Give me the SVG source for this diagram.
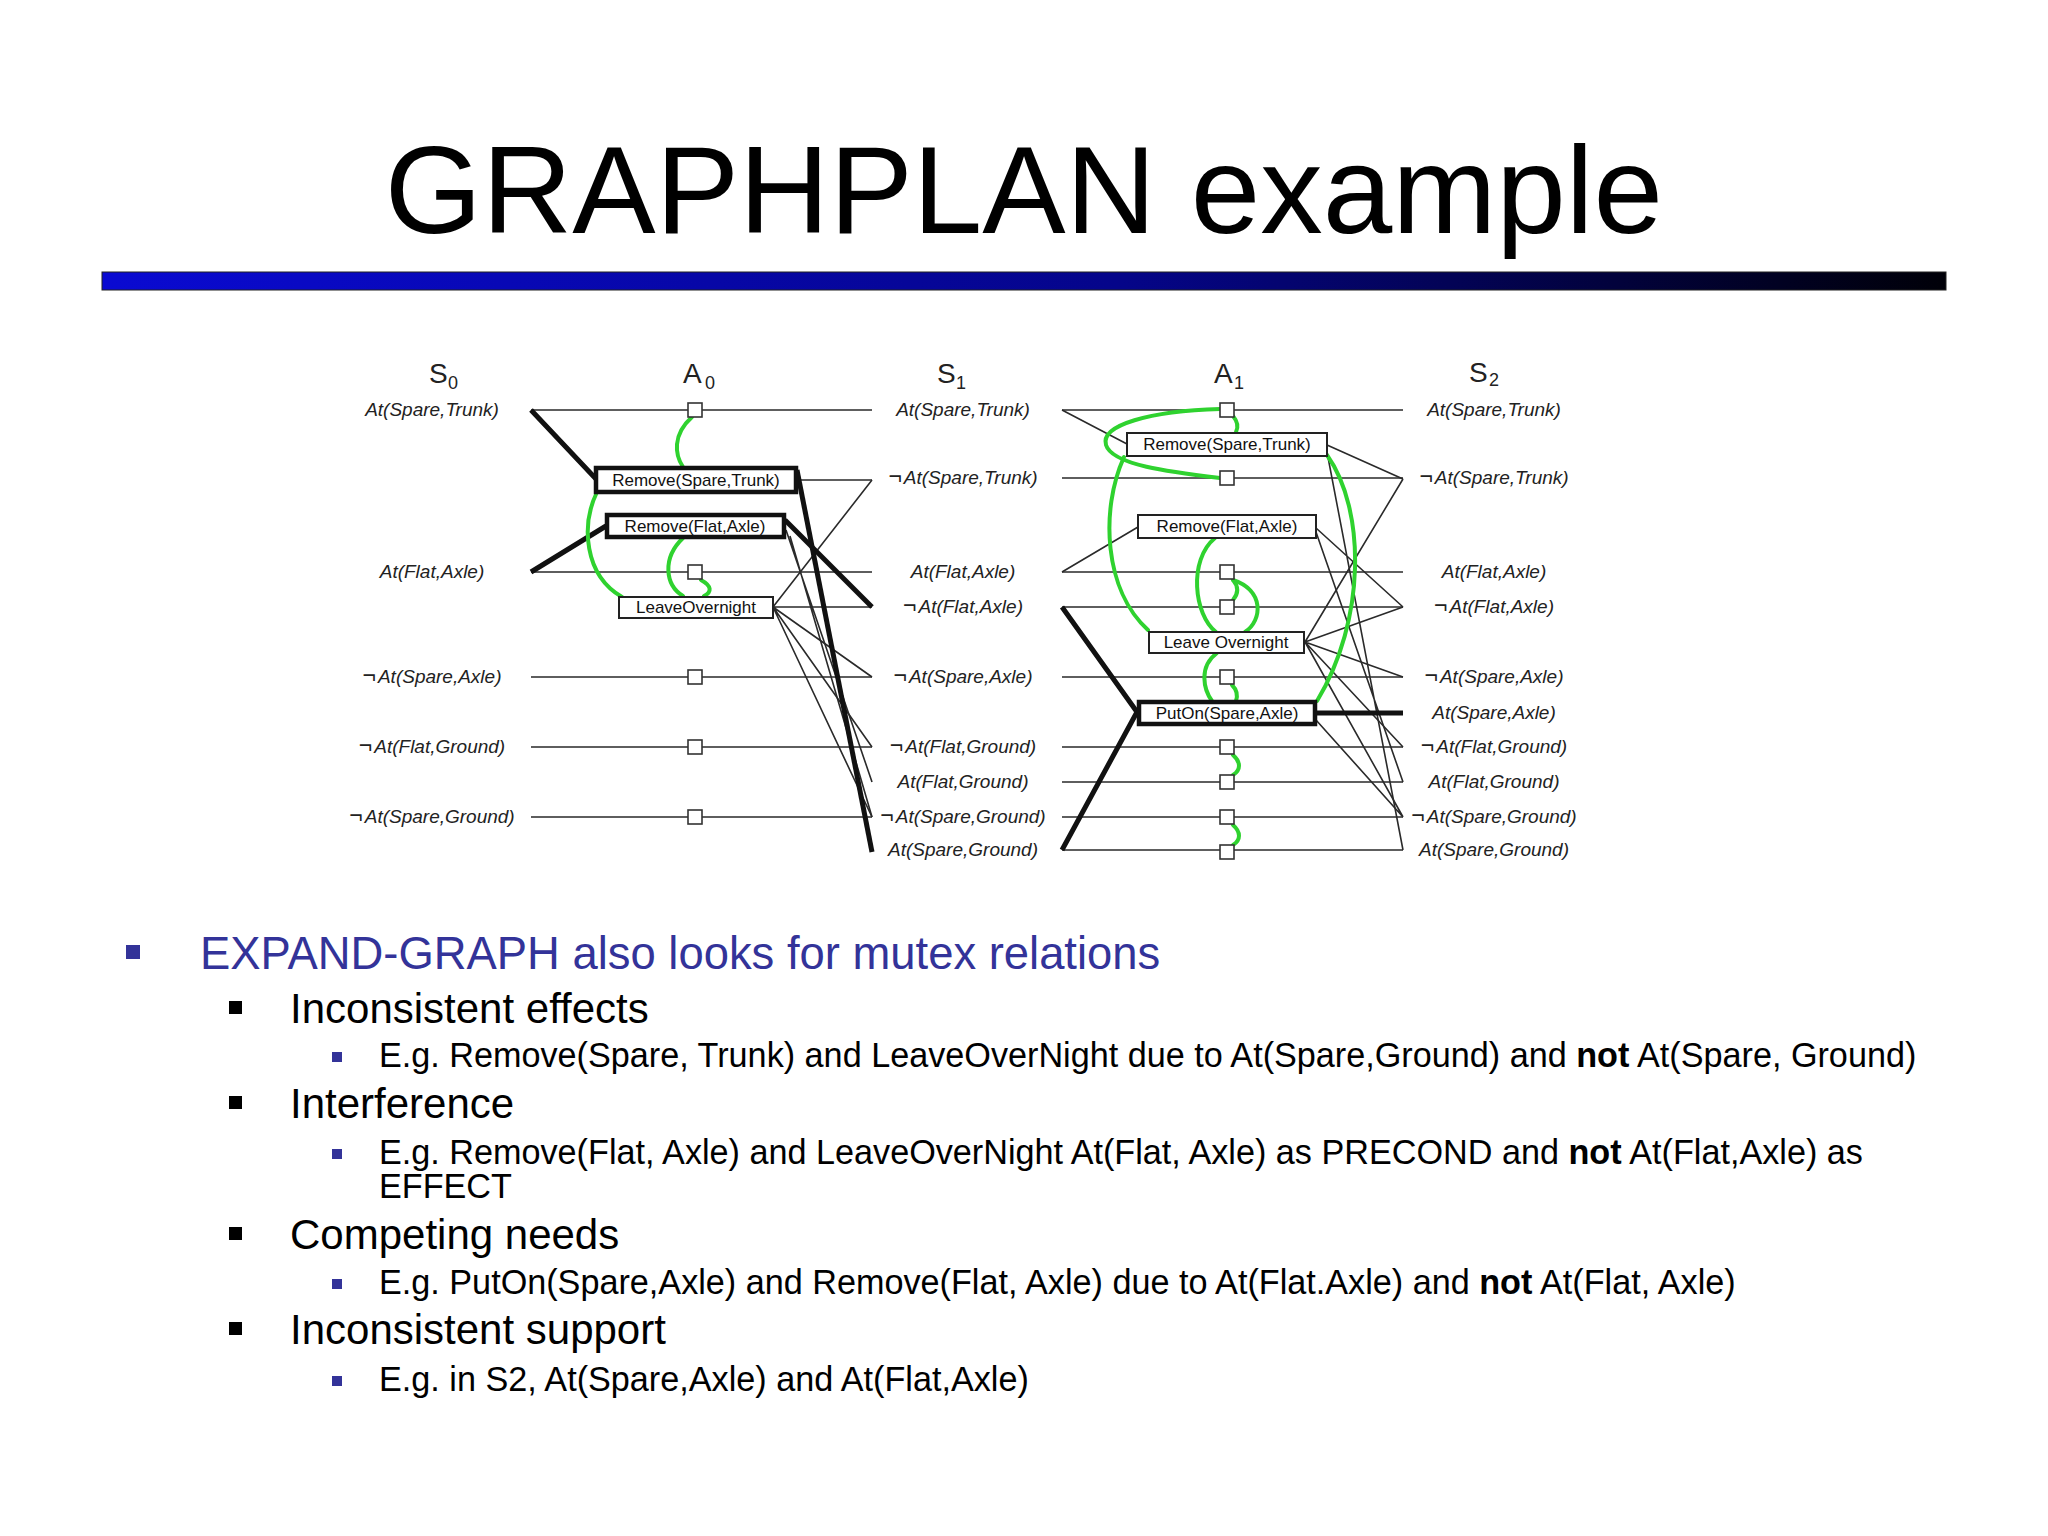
<svg xmlns="http://www.w3.org/2000/svg" width="2048" height="1536" viewBox="0 0 2048 1536">
<defs>
<linearGradient id="bar" x1="0" y1="0" x2="1" y2="0">
<stop offset="0" stop-color="#0a0ad2"/>
<stop offset="0.55" stop-color="#05058a"/>
<stop offset="1" stop-color="#000008"/>
</linearGradient>
<style>
.title{font-family:"Liberation Sans",Arial,sans-serif;font-size:125px;fill:#000;text-anchor:middle}
.hdr{font-family:"Liberation Sans",Arial,sans-serif;font-size:28px;fill:#222}
.sub{font-family:"Liberation Sans",Arial,sans-serif;font-size:18px;fill:#222}
.lbl{font-family:"Liberation Sans",Arial,sans-serif;font-style:italic;font-size:19px;fill:#222;text-anchor:middle}
.neg{font-style:normal;font-size:23px}
.act{font-family:"Liberation Sans",Arial,sans-serif;font-size:17px;fill:#111;text-anchor:middle}
.box{fill:#fff;stroke:#222;stroke-width:2}
.boxb{fill:#fff;stroke:#111;stroke-width:4.5}
.sq{fill:#fff;stroke:#333;stroke-width:1.6}
.ln{stroke:#2a2a2a;stroke-width:1.6;fill:none}
.lk{stroke:#111;stroke-width:5;fill:none}
.gr{stroke:#2fd22f;stroke-width:4;fill:none;stroke-linecap:round}
.b1{font-family:"Liberation Sans",Arial,sans-serif;font-size:45.4px;fill:#333399}
.b2{font-family:"Liberation Sans",Arial,sans-serif;font-size:42px;fill:#000}
.b3{font-family:"Liberation Sans",Arial,sans-serif;font-size:34.2px;fill:#000}
</style>
</defs>
<rect width="2048" height="1536" fill="#ffffff"/>
<text class="title" x="1024" y="233">GRAPHPLAN example</text>
<rect x="102" y="272" width="1844" height="18" fill="url(#bar)" stroke="#222" stroke-width="1"/>

<g id="connectors">
<!-- S0 persistence -->
<path class="ln" d="M531,410H872M531,572H872M531,677H872M531,747H872M531,817H872"/>
<!-- S0 preconditions -->
<path class="lk" d="M531,410L597,480M531,572L606,526"/>
<!-- A0 effects -->
<path class="ln" d="M797,480H872M786,530L872,782M790,536L872,817"/>
<path class="ln" d="M773,607L872,480M773,607H872M773,607L872,677M773,607L872,747M773,607L872,817"/>
<path class="lk" stroke-width="4" d="M797,470L872,852"/>
<path class="lk" d="M785,520L872,607"/>
<!-- S1 persistence -->
<path class="ln" d="M1062,410H1403M1062,478H1403M1062,572H1403M1062,607H1403M1062,677H1403M1062,747H1403M1062,782H1403M1062,817H1403M1062,850H1403"/>
<!-- S1 preconditions -->
<path class="ln" d="M1062,410L1127,444M1062,572L1138,527"/>
<path class="lk" d="M1062,607L1137,712M1062,850L1137,712"/>
<!-- A1 effects -->
<path class="ln" d="M1327,445L1403,479M1327,452L1403,850M1316,528L1403,607M1316,532L1403,782"/>
<path class="ln" d="M1305,642L1403,479M1305,642L1403,607M1305,642L1403,677M1305,642L1403,747M1305,642L1403,817M1316,720L1403,817"/>
<path class="lk" d="M1316,713H1403"/>
<!-- mutex A0 -->
<path class="gr" d="M692,417C672,435 675,455 683,467"/>
<path class="gr" d="M597,492C581,525 584,575 622,597"/>
<path class="gr" d="M683,538C662,558 665,585 683,596"/>
<path class="gr" d="M701,580C712,586 712,592 704,596"/>
<!-- mutex A1 -->
<path class="gr" d="M1220,409C1150,411 1100,425 1106,445C1112,465 1170,472 1220,478"/>
<path class="gr" d="M1233,416C1238,422 1238,428 1236,432"/>
<path class="gr" d="M1124,457C1100,510 1104,590 1148,630"/>
<path class="gr" d="M1215,538C1188,560 1194,615 1216,632"/>
<path class="gr" d="M1233,580C1264,590 1263,620 1245,632"/>
<path class="gr" d="M1233,580C1239,587 1238,594 1233,600"/>
<path class="gr" d="M1217,653C1198,667 1204,690 1212,701"/>
<path class="gr" d="M1232,685C1237,690 1238,695 1236,701"/>
<path class="gr" d="M1233,755C1241,762 1241,770 1233,775"/>
<path class="gr" d="M1233,825C1241,832 1241,840 1233,845"/>
<path class="gr" d="M1327,455C1366,510 1366,620 1317,701"/>
</g>

<g id="headers">
<text class="hdr" x="429" y="383">S</text><text class="sub" x="448" y="389">0</text>
<text class="hdr" x="683" y="383">A</text><text class="sub" x="705" y="389">0</text>
<text class="hdr" x="937" y="383">S</text><text class="sub" x="956" y="389">1</text>
<text class="hdr" x="1214" y="383">A</text><text class="sub" x="1234" y="389">1</text>
<text class="hdr" x="1469" y="382">S</text><text class="sub" x="1489" y="386">2</text>
</g>

<g id="S0">
<text class="lbl" x="432" y="416">At(Spare,Trunk)</text>
<text class="lbl" x="432" y="578">At(Flat,Axle)</text>
<text class="lbl" x="432" y="683"><tspan class="neg">¬</tspan><tspan dx="2">At(Spare,Axle)</tspan></text>
<text class="lbl" x="432" y="753"><tspan class="neg">¬</tspan><tspan dx="2">At(Flat,Ground)</tspan></text>
<text class="lbl" x="432" y="823"><tspan class="neg">¬</tspan><tspan dx="2">At(Spare,Ground)</tspan></text>
</g>

<g id="A0">
<rect class="sq" x="688" y="403" width="14" height="14"/>
<rect class="sq" x="688" y="565" width="14" height="14"/>
<rect class="sq" x="688" y="670" width="14" height="14"/>
<rect class="sq" x="688" y="740" width="14" height="14"/>
<rect class="sq" x="688" y="810" width="14" height="14"/>
<g id="a0-remove-spare-trunk"><rect class="boxb" x="596" y="468" width="200" height="24"/><text class="act" x="696" y="486">Remove(Spare,Trunk)</text></g>
<g id="a0-remove-flat-axle"><rect class="boxb" x="607" y="515" width="177" height="22"/><text class="act" x="695" y="532">Remove(Flat,Axle)</text></g>
<g id="a0-leave-overnight"><rect class="box" x="619" y="597" width="154" height="21"/><text class="act" x="696" y="613">LeaveOvernight</text></g>
</g>

<g id="S1">
<text class="lbl" x="963" y="416">At(Spare,Trunk)</text>
<text class="lbl" x="963" y="484"><tspan class="neg">¬</tspan><tspan dx="2">At(Spare,Trunk)</tspan></text>
<text class="lbl" x="963" y="578">At(Flat,Axle)</text>
<text class="lbl" x="963" y="613"><tspan class="neg">¬</tspan><tspan dx="2">At(Flat,Axle)</tspan></text>
<text class="lbl" x="963" y="683"><tspan class="neg">¬</tspan><tspan dx="2">At(Spare,Axle)</tspan></text>
<text class="lbl" x="963" y="753"><tspan class="neg">¬</tspan><tspan dx="2">At(Flat,Ground)</tspan></text>
<text class="lbl" x="963" y="788">At(Flat,Ground)</text>
<text class="lbl" x="963" y="823"><tspan class="neg">¬</tspan><tspan dx="2">At(Spare,Ground)</tspan></text>
<text class="lbl" x="963" y="856">At(Spare,Ground)</text>
</g>

<g id="A1">
<rect class="sq" x="1220" y="403" width="14" height="14"/>
<rect class="sq" x="1220" y="471" width="14" height="14"/>
<rect class="sq" x="1220" y="565" width="14" height="14"/>
<rect class="sq" x="1220" y="600" width="14" height="14"/>
<rect class="sq" x="1220" y="670" width="14" height="14"/>
<rect class="sq" x="1220" y="740" width="14" height="14"/>
<rect class="sq" x="1220" y="775" width="14" height="14"/>
<rect class="sq" x="1220" y="810" width="14" height="14"/>
<rect class="sq" x="1220" y="845" width="14" height="14"/>
<g id="a1-remove-spare-trunk"><rect class="box" x="1127" y="433" width="200" height="23"/><text class="act" x="1227" y="450">Remove(Spare,Trunk)</text></g>
<g id="a1-remove-flat-axle"><rect class="box" x="1138" y="515" width="178" height="23"/><text class="act" x="1227" y="532">Remove(Flat,Axle)</text></g>
<g id="a1-leave-overnight"><rect class="box" x="1149" y="632" width="155" height="21"/><text class="act" x="1226" y="648">Leave Overnight</text></g>
<g id="a1-puton-spare-axle"><rect class="boxb" x="1139" y="702" width="176" height="22"/><text class="act" x="1227" y="719">PutOn(Spare,Axle)</text></g>
</g>

<g id="S2">
<text class="lbl" x="1494" y="416">At(Spare,Trunk)</text>
<text class="lbl" x="1494" y="484"><tspan class="neg">¬</tspan><tspan dx="2">At(Spare,Trunk)</tspan></text>
<text class="lbl" x="1494" y="578">At(Flat,Axle)</text>
<text class="lbl" x="1494" y="613"><tspan class="neg">¬</tspan><tspan dx="2">At(Flat,Axle)</tspan></text>
<text class="lbl" x="1494" y="683"><tspan class="neg">¬</tspan><tspan dx="2">At(Spare,Axle)</tspan></text>
<text class="lbl" x="1494" y="719">At(Spare,Axle)</text>
<text class="lbl" x="1494" y="753"><tspan class="neg">¬</tspan><tspan dx="2">At(Flat,Ground)</tspan></text>
<text class="lbl" x="1494" y="788">At(Flat,Ground)</text>
<text class="lbl" x="1494" y="823"><tspan class="neg">¬</tspan><tspan dx="2">At(Spare,Ground)</tspan></text>
<text class="lbl" x="1494" y="856">At(Spare,Ground)</text>
</g>

<g id="bullets">
<rect x="126" y="945" width="14" height="14" fill="#333399"/>
<text class="b1" x="200" y="969">EXPAND-GRAPH also looks for mutex relations</text>
<rect x="229" y="1001" width="13" height="13" fill="#000"/>
<text class="b2" x="290" y="1023">Inconsistent effects</text>
<rect x="332" y="1052" width="10" height="10" fill="#333399"/>
<text class="b3" x="379" y="1067">E.g. Remove(Spare, Trunk) and LeaveOverNight due to At(Spare,Ground) and <tspan font-weight="bold">not</tspan> At(Spare, Ground)</text>
<rect x="229" y="1096" width="13" height="13" fill="#000"/>
<text class="b2" x="290" y="1118">Interference</text>
<rect x="332" y="1149" width="10" height="10" fill="#333399"/>
<text class="b3" x="379" y="1164">E.g. Remove(Flat, Axle) and LeaveOverNight At(Flat, Axle) as PRECOND and <tspan font-weight="bold">not</tspan> At(Flat,Axle) as</text>
<text class="b3" x="379" y="1198">EFFECT</text>
<rect x="229" y="1227" width="13" height="13" fill="#000"/>
<text class="b2" x="290" y="1249">Competing needs</text>
<rect x="332" y="1279" width="10" height="10" fill="#333399"/>
<text class="b3" x="379" y="1294">E.g. PutOn(Spare,Axle) and Remove(Flat, Axle) due to At(Flat.Axle) and <tspan font-weight="bold">not</tspan> At(Flat, Axle)</text>
<rect x="229" y="1322" width="13" height="13" fill="#000"/>
<text class="b2" x="290" y="1344">Inconsistent support</text>
<rect x="332" y="1376" width="10" height="10" fill="#333399"/>
<text class="b3" x="379" y="1391">E.g. in S2, At(Spare,Axle) and At(Flat,Axle)</text>
</g>
</svg>
